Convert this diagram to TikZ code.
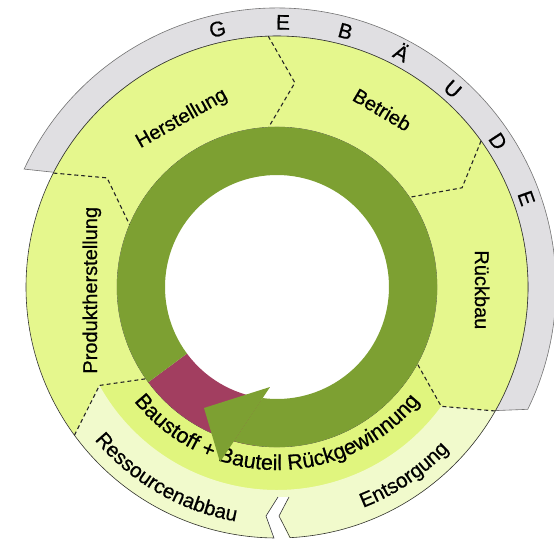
\documentclass[tikz,border=0pt]{standalone}
\usepackage{fontspec}
\newfontfamily\lblfont[FakeBold=0.6]{Liberation Sans}
\usepackage{xcolor}
\usepackage{tikz}
\usetikzlibrary{calc,decorations.text}

\definecolor{ringgreen}{RGB}{125,160,50}
\definecolor{leafyellow}{RGB}{229,247,141}
\definecolor{bandyellow}{RGB}{224,245,126}
\definecolor{paleyellow}{RGB}{241,250,204}
\definecolor{housegrey}{RGB}{224,223,226}
\definecolor{recmaroon}{RGB}{162,62,96}

\begin{document}
\begin{tikzpicture}[
    x=1pt, y=1pt,
    sep/.style={dash pattern=on 4pt off 3pt, line width=1.1pt, black!85},
    rim/.style={line width=0.6pt, black!80},
    lbl/.style={font=\lblfont\fontsize{20}{22}\selectfont, text height=14pt, text depth=0pt, inner sep=0pt},
    letter/.style={font=\lblfont\fontsize{21}{23}\selectfont, text height=15pt, text depth=0pt, inner sep=0pt},
    arctext/.style n args={2}{decorate, decoration={text along path, text align=center,
        text={|\lblfont\fontsize{#1}{22}\selectfont|#2}}}
]

% 캔버스
\path[use as bounding box] (-277,-255) rectangle (277,287);

% 반지름
\def\rW{112}   % 흰 원
\def\rG{160}   % 초록 고리 바깥
\def\rM{203}   % 아래 띠 경계
\def\rY{251}   % 노란 고리 바깥
\def\rH{279}   % 회색 띠 바깥

% 회색 띠
\draw[rim, black!55, fill=housegrey]
      (152.8:\rY) -- (155:\rH) arc[start angle=155, end angle=-26, radius=\rH]
      -- (-29.5:\rY) arc[start angle=-29.5, end angle=152.8, radius=\rY] -- cycle;

% 노란 고리
\fill[leafyellow, even odd rule] (0,0) circle[radius=\rY] (0,0) circle[radius=\rG];

% 아래쪽: 안쪽 띠와 바깥 띠
\fill[bandyellow] (215:\rG) -- (209:\rM) arc[start angle=209, end angle=324, radius=\rM]
      -- (331.3:\rG) arc[start angle=331.3, end angle=215, radius=\rG] -- cycle;
\fill[paleyellow] (209:\rM) -- (216.2:\rY) arc[start angle=216.2, end angle=330.4, radius=\rY]
      -- (324:\rM) arc[start angle=324, end angle=209, radius=\rM] -- cycle;

% 아래 틈 (화살표 모양)
\fill[white] (1,-210) -- (-11,-229) -- (-3,-253) -- (13,-253) -- (2,-229) -- (12,-210) -- cycle;

% 테두리
\draw[rim] (1,-210) -- (-11,-229) -- (269.3:\rY)
      arc[start angle=269.3, end angle=-87, radius=\rY] -- (2,-229) -- (12,-210);
\draw[rim, line width=0.4pt] (0,0) circle[radius=\rG];

% 구역 경계 (점선)
\draw[sep] (92:\rY) -- (85:205) -- (93:\rG);
\draw[sep] (35.6:\rY) -- (28.2:210) -- (34.1:\rG);
\draw[sep] (153:\rY) -- (147.3:202) -- (157.1:\rG);
\draw[sep] (216.2:\rY) -- (209:\rM) -- (215:\rG);
\draw[sep] (330.4:\rY) -- (324:\rM) -- (331.3:\rG);

% 순환 고리: 자주색 구간, 초록 몸통
\fill[recmaroon] (216.5:\rG) arc[start angle=216.5, end angle=262, radius=\rG]
      -- (262:\rW) arc[start angle=262, end angle=216.5, radius=\rW] -- cycle;
\fill[ringgreen] (254.4:\rG) arc[start angle=254.4, end angle=576.5, radius=\rG]
      -- (576.5:\rW) arc[start angle=576.5, end angle=262.6, radius=\rW] -- cycle;

% 단계 이름
\node[lbl, rotate=29.5]  (herst)   at (119.5:195) {Herstellung};
\node[lbl, rotate=-30.7] (betrieb) at (59.3:206)  {Betrieb};
\node[lbl, rotate=-90]   (rueck)   at (-0.8:205)  {Rückbau};
\node[lbl, rotate=90]    (produkt) at (181:187)   {Produktherstellung};

% 휘어진 글씨
\path[arctext={21.5}{Baustoff + Bauteil Rückgewinnung}] (203:183) arc[start angle=203, end angle=337, radius=183];
\path[arctext={20.5}{Ressourcenabbau}] (215:238) arc[start angle=215, end angle=265, radius=238];
\path[arctext={20.5}{Entsorgung}] (285:237) arc[start angle=285, end angle=323, radius=237];

% GEBÄUDE
\node[letter, rotate=13]    (g1) at (103:265)  {G};
\node[letter, rotate=-1.3]  (e1) at (88.7:265) {E};
\node[letter, rotate=-15]   (b1) at (75:265)   {B};
\node[letter, rotate=-28]   (a1) at (62:265)   {Ä};
\node[letter, rotate=-41.6] (u1) at (48.4:265) {U};
\node[letter, rotate=-56.6] (d1) at (33.4:265) {D};
\node[letter, rotate=-70.4] (e2) at (19.6:265) {E};

% 화살촉
\fill[ringgreen] (-73,-121) -- (-7,-100) -- (-57,-175) -- cycle;

\end{tikzpicture}
\end{document}
